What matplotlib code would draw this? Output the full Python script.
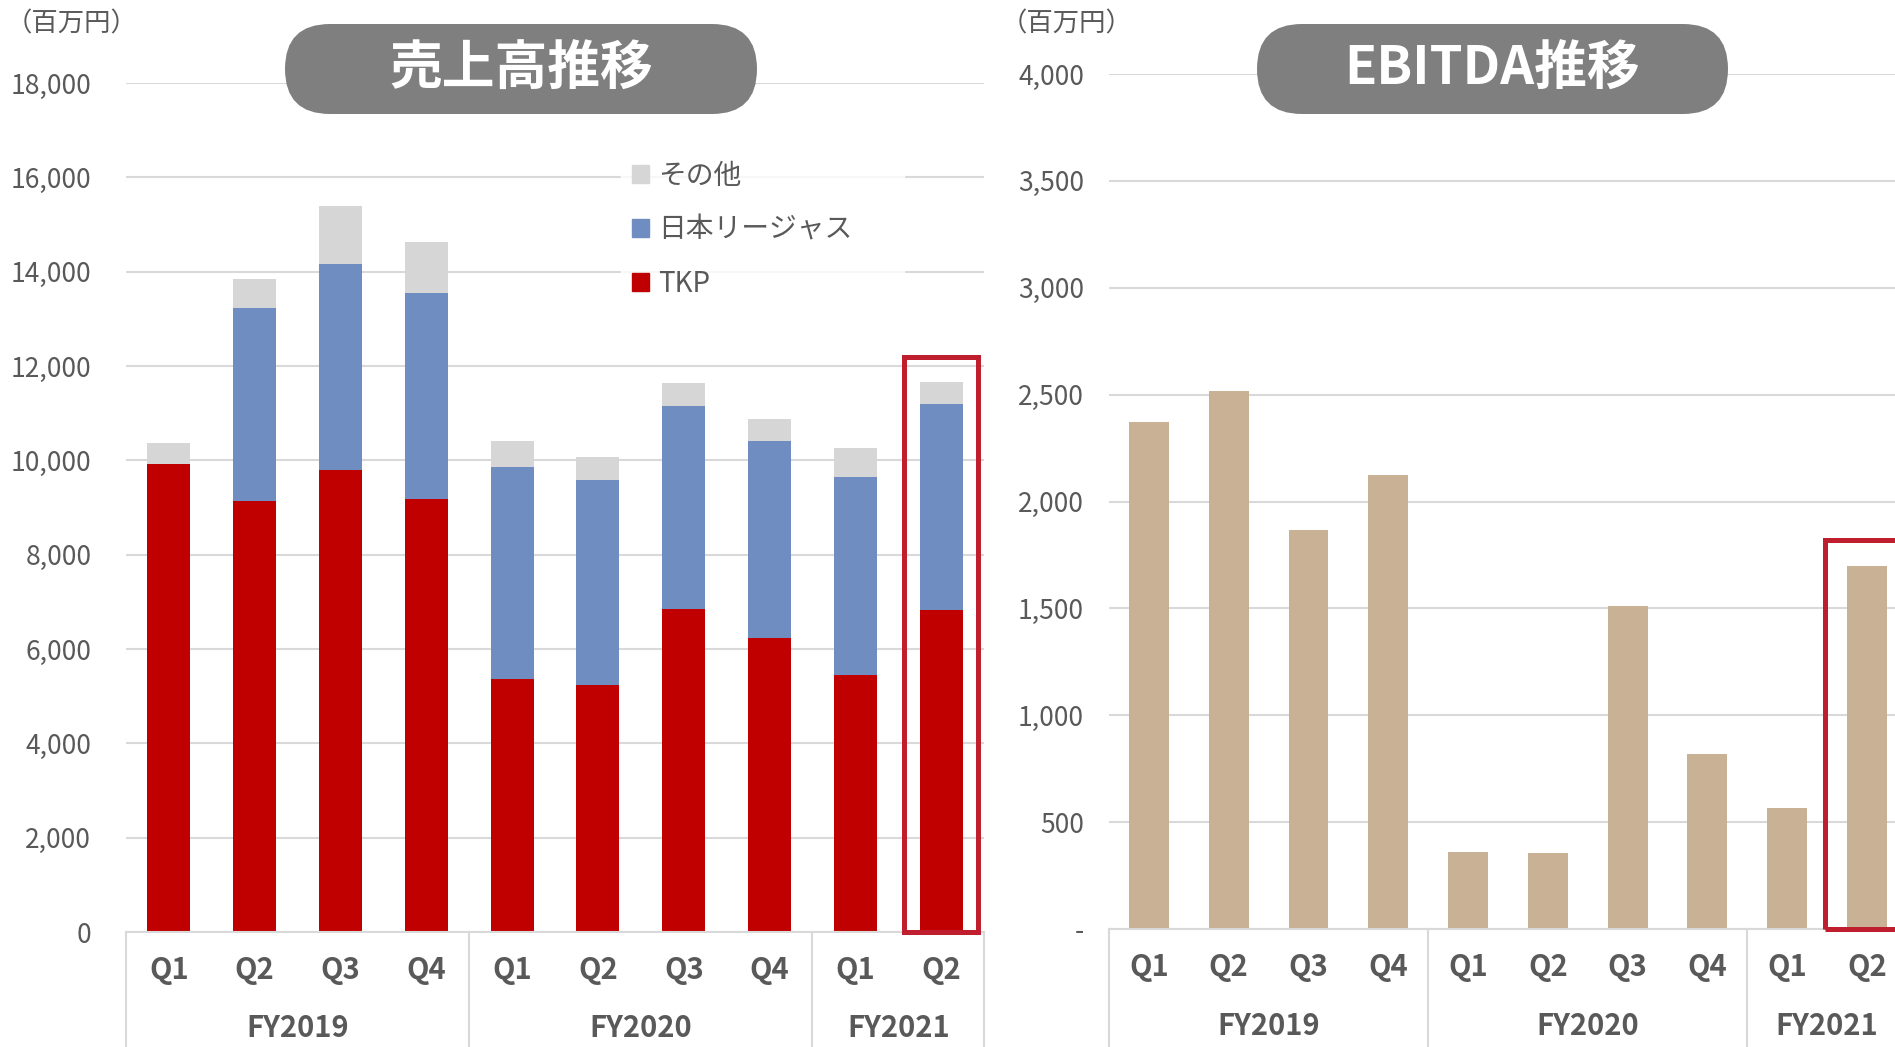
import matplotlib
matplotlib.use("Agg")
import matplotlib.pyplot as plt
from matplotlib.patches import Patch, Rectangle, FancyBboxPatch
from matplotlib.transforms import blended_transform_factory

# data
quarters = ["Q1", "Q2", "Q3", "Q4", "Q1", "Q2", "Q3", "Q4", "Q1", "Q2"]
years = ["FY2019", "FY2020", "FY2021"]
year_sizes = [4, 4, 2]

tkp = [9920, 9130, 9800, 9180, 5360, 5230, 6850, 6230, 5440, 6820]
regus = [0, 4100, 4360, 4360, 4490, 4360, 4310, 4180, 4200, 4380]
other = [440, 615, 1230, 1100, 560, 490, 490, 460, 620, 460]
ebitda = [2370, 2515, 1865, 2125, 360, 355, 1510, 820, 565, 1700]

sales_ticks = list(range(0, 18001, 2000))
ebitda_ticks = list(range(0, 4001, 500))

RED = "#C00000"
BLUE = "#6F8DC0"
GRAY = "#D6D6D6"
TAN = "#C8B194"
GRID = "#D9D9D9"
TXT = "#595959"
BOX = "#BE1E2D"

plt.rcParams["font.family"] = ["Noto Sans CJK JP", "DejaVu Sans"]
NUM = ["Liberation Sans Narrow", "Noto Sans CJK JP"]

fig = plt.figure(figsize=(18.95, 10.47), dpi=100)
ax1 = fig.add_axes([0.0665, 0.1098, 0.4528, 0.8109])
ax2 = fig.add_axes([0.5852, 0.1127, 0.4211, 0.8166])

x = list(range(len(quarters)))


def style_axis(ax, ticks, labels, pad):
    ax.set_xlim(-0.5, len(quarters) - 0.5)
    ax.set_ylim(ticks[0], ticks[-1])
    ax.set_yticks(ticks)
    ax.set_yticklabels(labels, family=NUM, fontsize=19, color=TXT)
    ax.tick_params(axis="y", length=0, pad=pad)
    ax.set_xticks([])
    for s in ["top", "right", "left"]:
        ax.spines[s].set_visible(False)
    ax.spines["bottom"].set_color(GRID)
    ax.spines["bottom"].set_linewidth(1.5)
    ax.grid(axis="y", color=GRID, linewidth=1.5, zorder=0)
    ax.set_axisbelow(True)
    # category labels and separators
    tr = blended_transform_factory(ax.transData, ax.transAxes)
    for i, q in enumerate(quarters):
        ax.text(i, -0.045, q, transform=tr, ha="center", va="center",
                family=NUM, fontsize=21, fontweight="bold", color=TXT)
    start = 0
    edges = [-0.5]
    for name, n in zip(years, year_sizes):
        mid = start + (n - 1) / 2
        ax.text(mid, -0.113, name, transform=tr, ha="center", va="center",
                family=NUM, fontsize=21, fontweight="bold", color=TXT)
        start += n
        edges.append(start - 0.5)
    for e in edges:
        ax.plot([e, e], [0, -0.2], transform=tr, color=GRID, lw=1.5,
                clip_on=False)


# left: sales stacked
bottom2 = [a + b for a, b in zip(tkp, regus)]
ax1.bar(x, tkp, width=0.5, color=RED, label="TKP", zorder=2)
ax1.bar(x, regus, width=0.5, bottom=tkp, color=BLUE, label="日本リージャス", zorder=2)
ax1.bar(x, other, width=0.5, bottom=bottom2, color=GRAY, label="その他", zorder=2)
style_axis(ax1, sales_ticks, [f"{v:,}" for v in sales_ticks], 25)

total_last = bottom2[-1] + other[-1]
ax1.add_patch(Rectangle((x[-1] - 0.435, 0), 0.87, total_last + 540, fill=False,
                        edgecolor=BOX, lw=3.6, zorder=3, clip_on=False))

handles = [Patch(color=GRAY), Patch(color=BLUE), Patch(color=RED)]
leg = ax1.legend(handles, ["その他", "日本リージャス", "TKP"], loc="upper left",
                 bbox_to_anchor=(621 / 1895, 1 - 310 / 1047, 283 / 1895, 160 / 1047),
                 bbox_transform=fig.transFigure, mode="expand", frameon=True,
                 fancybox=False, fontsize=20, handlelength=0.6, handleheight=0.6,
                 handletextpad=0.35, labelspacing=0.86, borderpad=0.4,
                 borderaxespad=0)
leg.get_frame().set_facecolor("white")
leg.get_frame().set_edgecolor("white")
for t in leg.get_texts():
    t.set_color(TXT)

# right: EBITDA
ax2.bar(x, ebitda, width=0.5, color=TAN, zorder=2)
style_axis(ax2, ebitda_ticks,
           ["-" if v == 0 else f"{v:,}" for v in ebitda_ticks], 18)
ax2.add_patch(Rectangle((x[-1] - 0.53, 0), 1.06, ebitda[-1] + 118, fill=False,
                        edgecolor=BOX, lw=3.6, zorder=3, clip_on=False))

# overlay in pixel coords for pills and unit labels
over = fig.add_axes([0, 0, 1, 1])
over.set_xlim(0, 1895)
over.set_ylim(1047, 0)
over.axis("off")
over.set_zorder(5)


def pill(x0, x1, y0, y1, text):
    h = y1 - y0
    over.add_patch(FancyBboxPatch((x0, y0), x1 - x0, h,
                                  boxstyle=f"round,pad=0,rounding_size={h / 2}",
                                  facecolor="#7F7F7F", edgecolor="none"))
    over.text((x0 + x1) / 2, (y0 + y1) / 2, text, ha="center", va="center",
              fontsize=38, fontweight="bold", color="white")


pill(285, 757, 24, 114, "売上高推移")
pill(1257, 1728, 24, 114, "EBITDA推移")

over.text(6, 24, "（百万円）", ha="left", va="center", fontsize=19, color=TXT)
over.text(1001, 24, "（百万円）", ha="left", va="center", fontsize=19, color=TXT)

fig.savefig("out.png", dpi=100)
